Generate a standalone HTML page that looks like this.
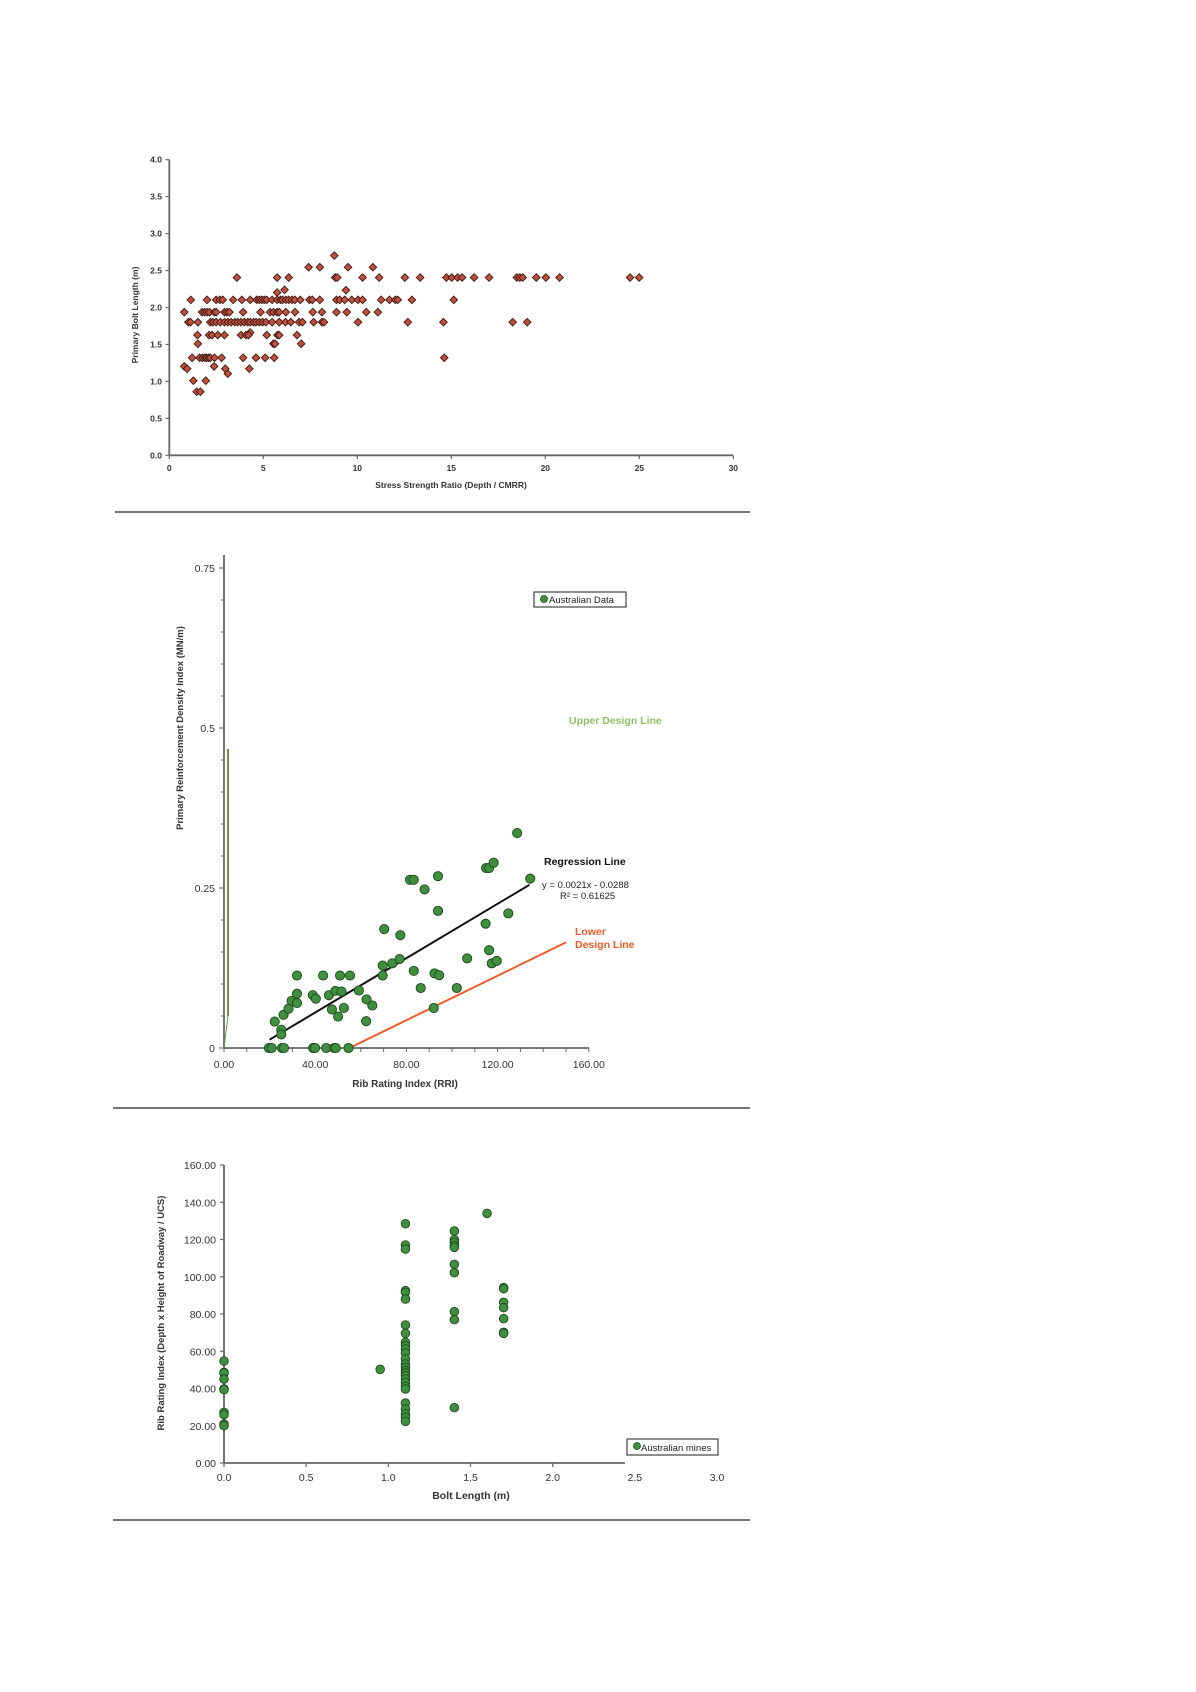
<!DOCTYPE html>
<html><head><meta charset="utf-8"><style>
html,body{margin:0;padding:0;background:#fff;}
svg{display:block;font-family:"Liberation Sans",Arial,sans-serif;}
</style></head><body>
<svg id="s" width="1196" height="1692" viewBox="0 0 1196 1692" xmlns="http://www.w3.org/2000/svg">
<rect width="1196" height="1692" fill="#fff"/>
<!-- separators -->
<line x1="115" y1="512" x2="750" y2="512" stroke="#222" stroke-width="1.3"/>
<line x1="113" y1="1108" x2="750" y2="1108" stroke="#222" stroke-width="1.3"/>
<line x1="113" y1="1520" x2="750" y2="1520" stroke="#222" stroke-width="1.3"/>

<!-- Chart 1 axes -->
<g stroke="#666" stroke-width="1.8" fill="none">
<line x1="169.3" y1="159.6" x2="169.3" y2="455.3"/>
<line x1="169.3" y1="455.3" x2="733" y2="455.3"/>
</g>
<g id="c1t" font-size="8.5" fill="#333" font-weight="bold"></g>
<text x="451" y="488" font-size="8.5" font-weight="bold" fill="#333" text-anchor="middle">Stress Strength Ratio (Depth / CMRR)</text>
<text transform="translate(138,315) rotate(-90)" font-size="8.5" font-weight="bold" fill="#333" text-anchor="middle">Primary Bolt Length (m)</text>
<g id="c1p"></g>

<!-- Chart 2 -->
<g stroke="#666" stroke-width="1.8" fill="none">
<line x1="224" y1="555" x2="224" y2="1048"/>
<line x1="224" y1="1048" x2="589" y2="1048"/>
</g>
<g id="c2t" font-size="10.5" fill="#333"></g>
<text x="405" y="1087" font-size="10" font-weight="bold" fill="#333" text-anchor="middle">Rib Rating Index (RRI)</text>
<text transform="translate(183,728) rotate(-90)" font-size="9.5" font-weight="bold" fill="#333" text-anchor="middle">Primary Reinforcement Density Index (MN/m)</text>
<line x1="228" y1="749" x2="228" y2="1016" stroke="#6a9a3a" stroke-width="2"/>
<line x1="224" y1="1048" x2="228" y2="1016" stroke="#6a9a3a" stroke-width="1"/>
<line x1="269.6" y1="1039.7" x2="529.5" y2="884.8" stroke="#111" stroke-width="2"/>
<line x1="349.4" y1="1048" x2="566" y2="942.4" stroke="#f05a28" stroke-width="2"/>
<text x="569" y="724" font-size="10.5" font-weight="bold" fill="#8fc060">Upper Design Line</text>
<text x="544" y="865" font-size="10.5" font-weight="bold" fill="#111">Regression Line</text>
<text x="542" y="888" font-size="9.5" fill="#222">y = 0.0021x - 0.0288</text>
<text x="560" y="899" font-size="9.5" fill="#222">R² = 0.61625</text>
<text x="575" y="935" font-size="10.5" font-weight="bold" fill="#f05a28">Lower</text>
<text x="575" y="948" font-size="10.5" font-weight="bold" fill="#f05a28">Design Line</text>
<rect x="534" y="592" width="92" height="15" fill="#fff" stroke="#444" stroke-width="1.2"/>
<circle cx="544" cy="599" r="3.5" fill="#3f8f3f" stroke="#1c4a1c" stroke-width="0.8"/>
<text x="549" y="603" font-size="9.5" fill="#222">Australian Data</text>
<g id="c2p"></g>

<!-- Chart 3 -->
<g stroke="#666" stroke-width="1.8" fill="none">
<line x1="224" y1="1165" x2="224" y2="1463"/>
<line x1="224" y1="1463" x2="625" y2="1463"/>
</g>
<g id="c3t" font-size="10.5" fill="#333"></g>
<text x="471" y="1499" font-size="10.5" font-weight="bold" fill="#333" text-anchor="middle">Bolt Length (m)</text>
<text transform="translate(164,1313) rotate(-90)" font-size="9.5" font-weight="bold" fill="#333" text-anchor="middle">Rib Rating Index (Depth x Height of Roadway / UCS)</text>
<rect x="627" y="1439" width="91" height="16" fill="#fff" stroke="#444" stroke-width="1.2"/>
<circle cx="637" cy="1446" r="3.5" fill="#3f8f3f" stroke="#1c4a1c" stroke-width="0.8"/>
<text x="641" y="1451" font-size="9.5" fill="#222">Australian mines</text>
<g id="c3p"></g>
</svg>
<script>
var NS="http://www.w3.org/2000/svg";
function el(p,t,a,txt){var e=document.createElementNS(NS,t);for(var k in a)e.setAttribute(k,a[k]);if(txt!==undefined)e.textContent=txt;document.getElementById(p).appendChild(e);return e;}
// chart1 ticks
for(var i=0;i<=8;i++){var v=i*0.5,y=455.3-v*73.9;el('c1t','line',{x1:165.5,y1:y,x2:169.3,y2:y,stroke:'#666','stroke-width':1.2});el('c1t','text',{x:162,y:y+3,'text-anchor':'end'},v.toFixed(1));}
for(var i=0;i<=6;i++){var x=169.3+i*5*18.8;el('c1t','line',{x1:x,y1:455.3,x2:x,y2:459,stroke:'#666','stroke-width':1.2});el('c1t','text',{x:x,y:471,'text-anchor':'middle'},String(i*5));}
// chart1 points (zoom coords)
var rows={376:[565],411:[503,530,598,658],442:[330,427,455,567,572,633,673,735,772,835,848,862,873,902,938,1005,1012,1019,1052,1075,1108,1278,1300],
479:[445],487:[427],480:[593],
509:[219,258,280,289,296,321,342,362,378,384,390,396,402,415,427,435,440,448,455,463,470,483,505,512,530,570,578,590,607,622,633,678,698,712,718,752,853],
546:[203,246,252,258,264,276,280,300,306,312,345,387,410,418,427,432,448,470,513,535,570,595,642,670],
576:[213,218,236,266,272,280,290,300,308,316,325,332,340,348,356,362,370,376,384,392,400,415,432,447,460,480,488,515,535,540,622,742,828,995,1030],
615:[235,263,270,284,300,340,352,358,402,428,432,475],607:[362],641:[236,418,422,485],
683:[222,240,247,253,257,262,266,276,293,345,376,398,420,830],709:[203,275],716:[210,302,360],731:[308],752:[225,255],785:[233,242]};
for(var zy in rows){rows[zy].forEach(function(zx){var x=169.3+(zx-167)*0.4147,y=455.3-(976-zy)*0.3329;
el('c1p','path',{d:'M'+x+' '+(y-3.8)+'L'+(x+3.8)+' '+y+'L'+x+' '+(y+3.8)+'L'+(x-3.8)+' '+y+'Z',fill:'#c0503c',stroke:'#3a1a12','stroke-width':0.9});});}
// chart2 ticks
var yl={0:'0',0.25:'0.25',0.5:'0.5',0.75:'0.75'};
for(var i=0;i<=15;i++){var v=i*0.05,y=1048-v*640,big=(i%5==0);el('c2t','line',{x1:big?219:221,y1:y,x2:224,y2:y,stroke:'#666','stroke-width':1});}
[0,0.25,0.5,0.75].forEach(function(v){el('c2t','text',{x:215,y:1048-v*640+4,'text-anchor':'end'},yl[v]);});
for(var i=0;i<=16;i++){var x=224+i*10*2.28;el('c2t','line',{x1:x,y1:1048,x2:x,y2:1052,stroke:'#666','stroke-width':1});}
for(var i=0;i<=4;i++){el('c2t','text',{x:224+i*40*2.28,y:1068,'text-anchor':'middle'},(i*40).toFixed(2));}
var p2=[[313,1426],[320,1426],[347,1426],[352,1426],[428,1426],[433,1426],[462,1426],[483,1426],[487,1426],[520,1426],[328,1352],[345,1375],[345,1388],[351,1333],[364,1316],[372,1294],[386,1274],[386,1300],[386,1223],[427,1278],[435,1288],[454,1223],[469,1278],[477,1318],[486,1266],[493,1338],[498,1223],[502,1268],[508,1314],[524,1223],[547,1265],[566,1351],[567,1290],[582,1307],[609,1223],[609,1195],[613,1093],[634,1189],[653,1177],[655,1110],[680,955],[690,955],[690,1210],[708,1258],[718,982],[742,1314],[744,1217],[753,945],[753,1042],[756,1222],[802,1258],[829,1175],[877,1078],[878,922],[886,922],[886,1152],[893,1189],[898,907],[906,1182],[936,1049],[959,824],[993,952]];
p2.forEach(function(p){el('c2p','circle',{cx:224+(p[0]-196)*0.3842,cy:1048-(1426-p[1])*0.3571,r:4.6,fill:'#3f8f3f',stroke:'#1c4a1c','stroke-width':0.9});});
// chart3 ticks
for(var i=0;i<=8;i++){var v=i*20,y=1463-v*1.8625;el('c3t','line',{x1:220,y1:y,x2:224,y2:y,stroke:'#666','stroke-width':1.2});el('c3t','text',{x:216,y:y+4,'text-anchor':'end'},v.toFixed(2));}
for(var i=0;i<=6;i++){var x=224+i*82.17;if(i<5)el('c3t','line',{x1:x,y1:1463,x2:x,y2:1467,stroke:'#666','stroke-width':1.2});el('c3t','text',{x:x,y:1481,'text-anchor':'middle'},(i*0.5).toFixed(1));}
var p3=[];[636,670,672,690,720,722,790,797,825,830].forEach(function(y){p3.push([300,y]);});
p3.push([677,661]);p3.push([935,193]);
[224,288,300,425,430,450,528,553,580,590,600,612,630,645,655,665,672,680,690,700,712,720,762,780,795,805,817].forEach(function(y){p3.push([738,y]);});
[246,272,280,290,295,346,371,488,512,776].forEach(function(y){p3.push([856,y]);});
[416,419,460,476,509,550,553].forEach(function(y){p3.push([975,y]);});
p3.forEach(function(p){el('c3p','circle',{cx:224+(p[0]-300)*0.4143,cy:1463-(942-p[1])*0.3333,r:4.3,fill:'#3f8f3f',stroke:'#1c4a1c','stroke-width':0.9});});
</script>
</body></html>
